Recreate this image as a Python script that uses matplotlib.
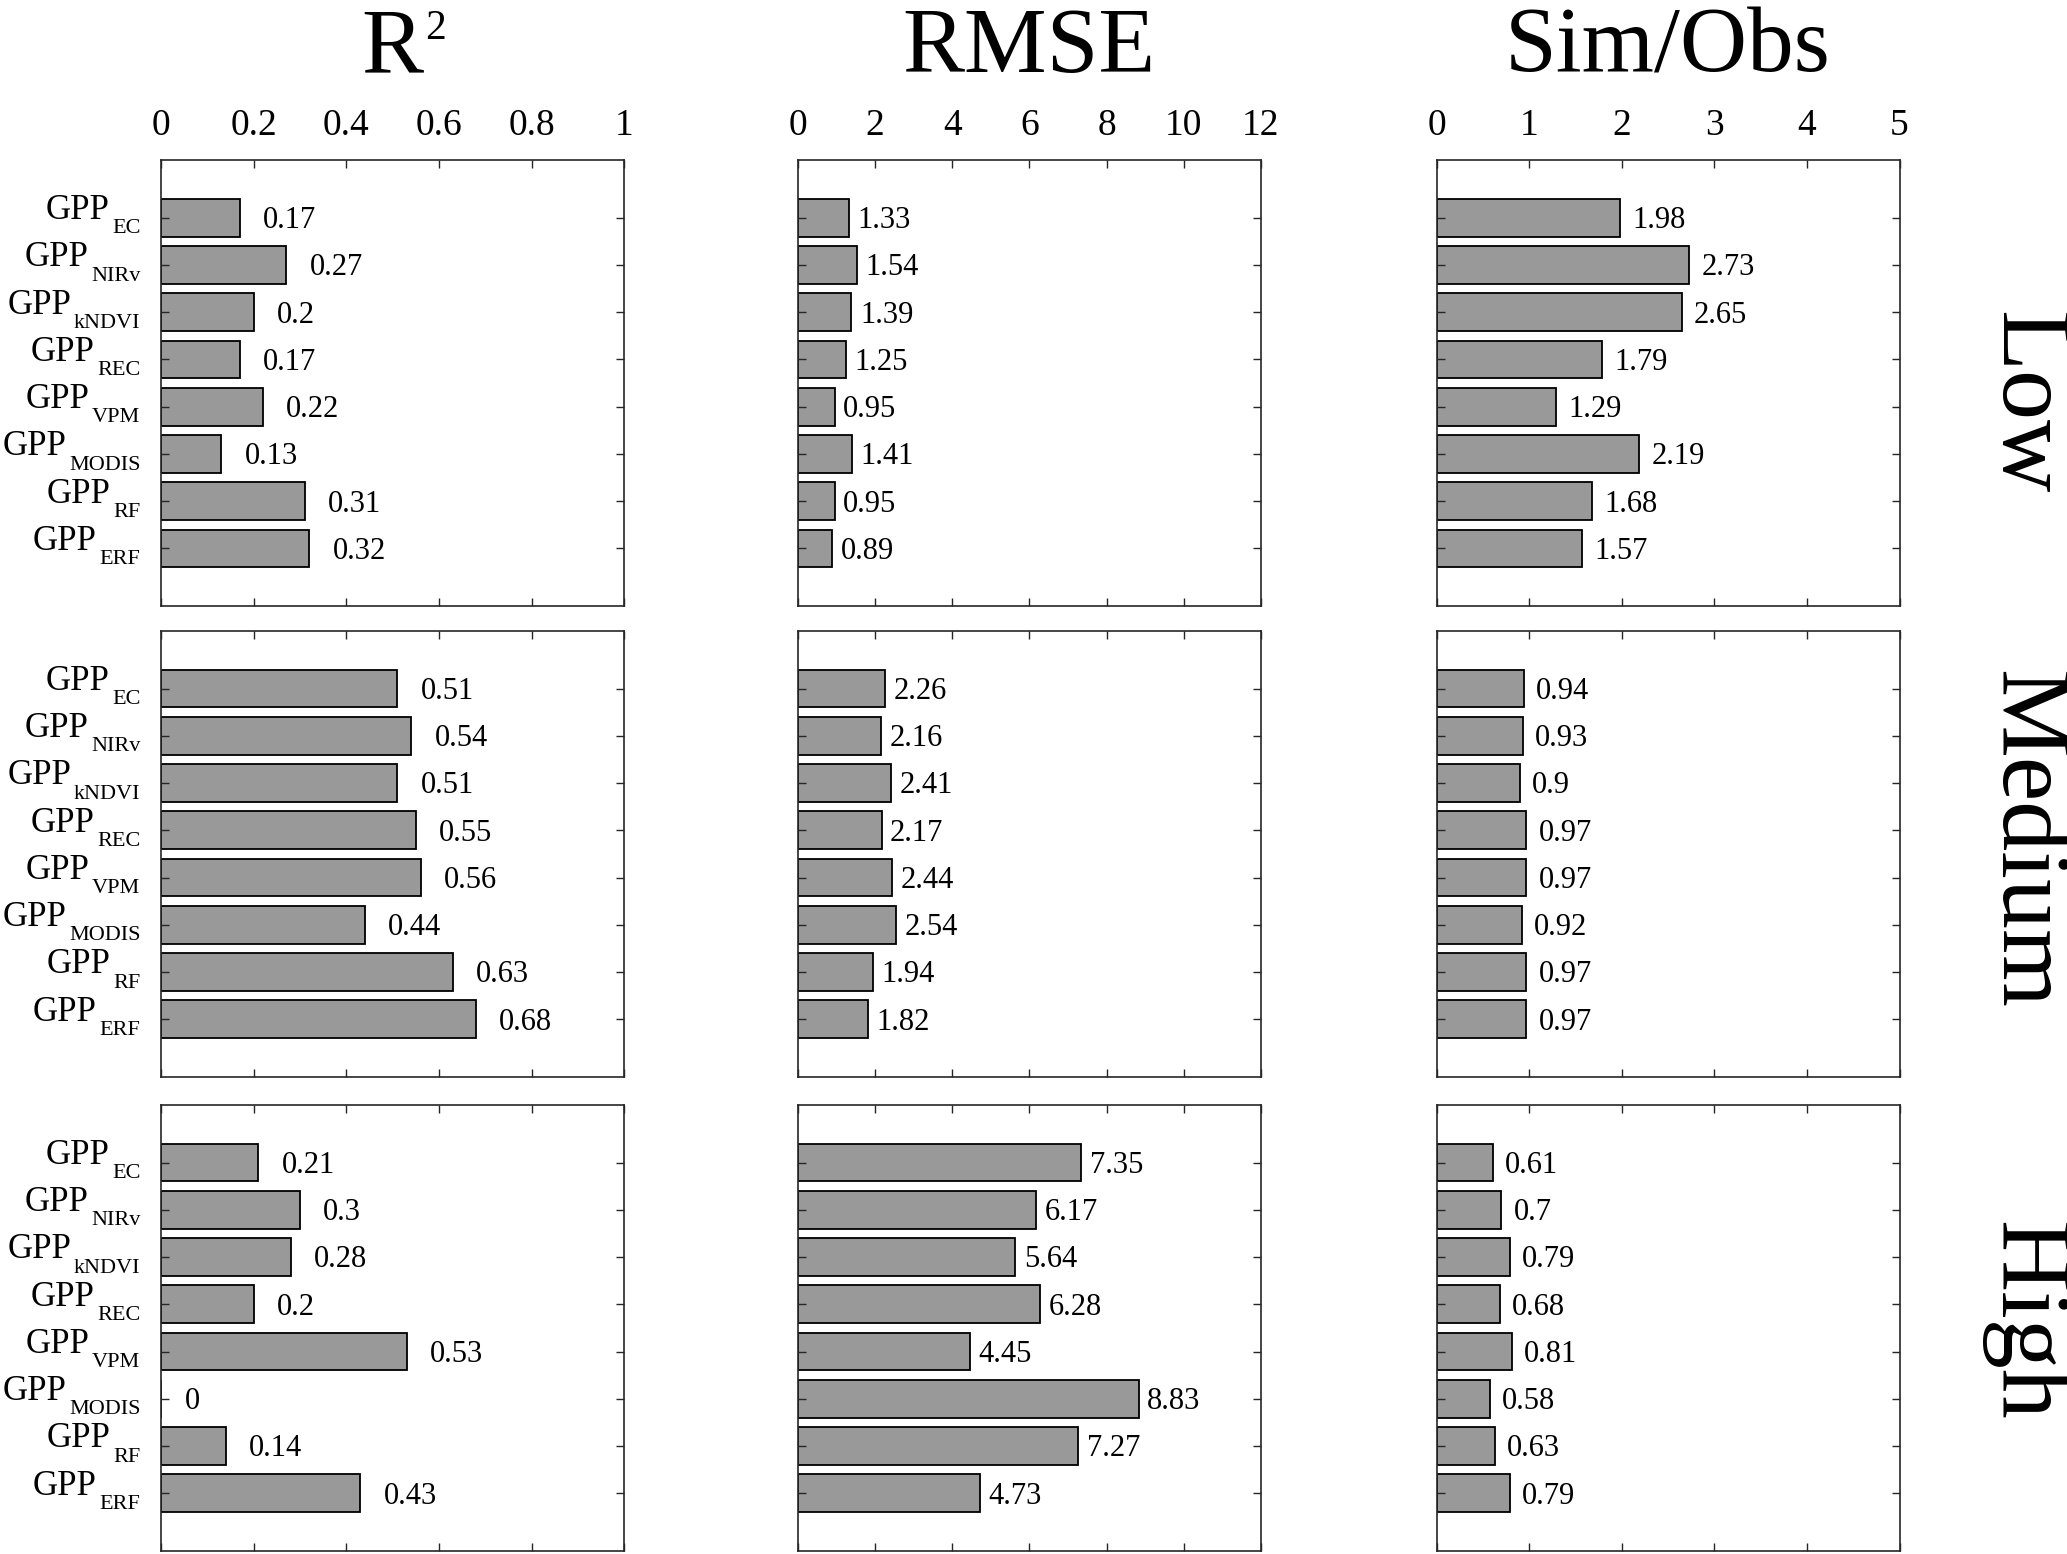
import matplotlib
matplotlib.use("Agg")
from matplotlib import pyplot as plt
import numpy as np

# models (y axis) and site groups (rows)
models = ['EC', 'NIRv', 'kNDVI', 'REC', 'VPM', 'MODIS', 'RF', 'ERF']
levels = ['Low', 'Medium', 'High']
metrics = ['R', 'RMSE', 'Sim/Obs']

r2_low = [0.17, 0.27, 0.2, 0.17, 0.22, 0.13, 0.31, 0.32]
r2_medium = [0.51, 0.54, 0.51, 0.55, 0.56, 0.44, 0.63, 0.68]
r2_high = [0.21, 0.3, 0.28, 0.2, 0.53, 0, 0.14, 0.43]

rmse_low = [1.33, 1.54, 1.39, 1.25, 0.95, 1.41, 0.95, 0.89]
rmse_medium = [2.26, 2.16, 2.41, 2.17, 2.44, 2.54, 1.94, 1.82]
rmse_high = [7.35, 6.17, 5.64, 6.28, 4.45, 8.83, 7.27, 4.73]

simobs_low = [1.98, 2.73, 2.65, 1.79, 1.29, 2.19, 1.68, 1.57]
simobs_medium = [0.94, 0.93, 0.9, 0.97, 0.97, 0.92, 0.97, 0.97]
simobs_high = [0.61, 0.7, 0.79, 0.68, 0.81, 0.58, 0.63, 0.79]

x_ticks = [np.arange(0, 1.01, 0.2), np.arange(0, 12.1, 2), np.arange(0, 5.1, 1)]
x_ticklabels = [['0', '0.2', '0.4', '0.6', '0.8', '1'],
                ['0', '2', '4', '6', '8', '10', '12'],
                ['0', '1', '2', '3', '4', '5']]

data = [[r2_low, rmse_low, simobs_low],
        [r2_medium, rmse_medium, simobs_medium],
        [r2_high, rmse_high, simobs_high]]

plt.rcParams['font.family'] = ['Liberation Serif', 'DejaVu Serif']

fig = plt.figure(figsize=(20.67, 15.54), dpi=100)

lefts = [0.078, 0.386, 0.695]
width = 0.224
bottoms = [0.610, 0.307, 0.002]
height = 0.287
label_offset = [0.05, 0.22, 0.13]
level_y = [0.741, 0.460, 0.150]
edge = '#262626'

pos = np.arange(1, len(models) + 1)

for i, level in enumerate(levels):
    for j in range(3):
        ax = fig.add_axes([lefts[j], bottoms[i], width, height])
        vals = data[i][j]
        ax.barh(pos, vals, height=0.8, color='#999999', edgecolor='black', linewidth=1.3)
        for p, v in zip(pos, vals):
            ax.text(v + label_offset[j], p + 0.22, f"{v:g}", va='baseline', ha='left', fontsize=22)
        ax.set_xlim(x_ticks[j][0], x_ticks[j][-1])
        ax.set_ylim(len(models) + 1.22, 1 - 1.22)
        ax.set_xticks(x_ticks[j])
        ax.set_yticks(pos)
        ax.tick_params(axis='both', direction='in', length=6, width=1, color=edge,
                       top=True, bottom=True, left=True, right=True)
        ax.tick_params(axis='y', labelleft=False)
        if i == 0:
            ax.set_xticklabels(x_ticklabels[j])
            ax.tick_params(axis='x', labeltop=True, labelbottom=False, labelsize=27, pad=12)
        else:
            ax.tick_params(axis='x', labeltop=False, labelbottom=False)

        # GPP with subscripted model name, drawn as two texts
        if j == 0:
            for p, m in zip(pos, models):
                sub = ax.annotate(m, xy=(0, p + 0.33), xycoords=ax.get_yaxis_transform(),
                                  xytext=(-15, 0), textcoords='offset points',
                                  ha='right', va='baseline', fontsize=16)
                ax.annotate('GPP', xy=(0, p + 0.03), xycoords=(sub, 'data'),
                            xytext=(-2, 0), textcoords='offset points',
                            ha='right', va='baseline', fontsize=25)

        for s in ax.spines.values():
            s.set_color(edge)
            s.set_linewidth(1.2)

        if i == 0:
            t = fig.text(lefts[j] + width / 2, 0.9537, metrics[j], ha='center', va='baseline', fontsize=67)
            if j == 0:
                ax.annotate('2', xy=(1.0, 0.97), xycoords=t, xytext=(1, 0), textcoords='offset points',
                            ha='left', va='top', fontsize=30, annotation_clip=False)
    fig.text(0.9676, level_y[i], level, rotation=-90, rotation_mode='anchor',
             ha='center', va='baseline', fontsize=72)

fig.savefig('out.png', dpi=100)
plt.close(fig)
